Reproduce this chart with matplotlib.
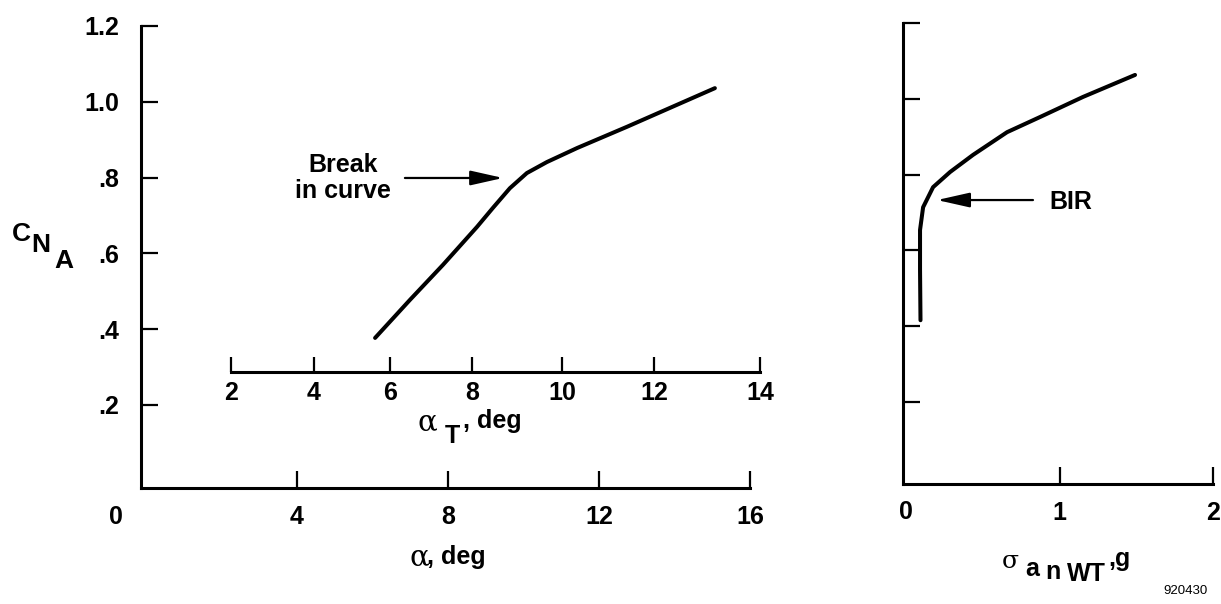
import matplotlib
matplotlib.use("Agg")
import matplotlib.pyplot as plt

plt.rcParams['font.family'] = ['Liberation Sans', 'DejaVu Sans']
plt.rcParams['font.weight'] = 'bold'

# left panel: C_NA vs alpha
alpha = [6.07, 6.99, 7.87, 8.77, 9.19, 9.64, 10.09, 10.62, 11.42, 12.74, 15.07]
cna_left = [0.377, 0.477, 0.570, 0.670, 0.720, 0.772, 0.812, 0.841, 0.878, 0.934, 1.036]

# inner alpha_T scale: tick values and where they sit on the alpha axis
alpha_t_vals = [2, 4, 6, 8, 10, 12, 14]
alpha_t_pos = [2.25, 4.45, 6.46, 8.64, 11.02, 13.46, 16.27]
alpha_t_level = 0.287

# right panel: C_NA vs sigma a_n
sigma_an = [0.094, 0.091, 0.091, 0.111, 0.176, 0.287, 0.436, 0.658, 0.873, 1.153, 1.492]
cna_right = [0.416, 0.55, 0.654, 0.714, 0.767, 0.807, 0.852, 0.912, 0.952, 1.005, 1.063]

y_ticks = [0.2, 0.4, 0.6, 0.8, 1.0, 1.2]
y_labels = ['.2', '.4', '.6', '.8', '1.0', '1.2']

W, H = 1221, 604
FS = 18
fig = plt.figure(figsize=(W / 100, H / 100), dpi=100)


def px(x, y):
    return x / W, 1 - y / H


def style(ax):
    for s in ['top', 'right']:
        ax.spines[s].set_visible(False)
    for s in ['left', 'bottom']:
        ax.spines[s].set_linewidth(2.2)
    ax.tick_params(direction='in', length=12, width=1.6, labelsize=FS)
    for lab in ax.get_xticklabels() + ax.get_yticklabels():
        lab.set_fontweight('bold')


arrow = dict(arrowstyle='-|>,head_length=2.0,head_width=0.45', color='black', lw=1.6,
             shrinkA=0, shrinkB=0)

ax1 = fig.add_axes([141 / W, (H - 488) / H, (750 - 141) / W, (488 - 26) / H])
ax1.plot(alpha, cna_left, color='black', lw=2.9, solid_capstyle='round', solid_joinstyle='round')
ax1.set_xlim(-0.13, 16.0)
ax1.set_ylim(-0.019, 1.2)
ax1.set_xticks([4, 8, 12, 16])
ax1.set_yticks(y_ticks)
ax1.set_yticklabels(y_labels)
style(ax1)
ax1.tick_params(axis='x', pad=12)
ax1.tick_params(axis='y', pad=16)

# alpha_T scale drawn inside the left panel
ax1.plot([alpha_t_pos[0], alpha_t_pos[-1]], [alpha_t_level, alpha_t_level],
         color='black', lw=2.2, clip_on=False)
ax1.vlines(alpha_t_pos, alpha_t_level, alpha_t_level + 0.04, color='black', lw=1.6, clip_on=False)
for v, p in zip(alpha_t_vals, alpha_t_pos):
    ax1.text(p, alpha_t_level - 0.055, str(v), ha='center', va='center', fontsize=FS,
             fontweight='bold', clip_on=False)

ax1.annotate('', xy=(9.46, 0.799), xytext=(6.86, 0.799), arrowprops=arrow)
ax1.text(5.22, 0.80, 'Break\nin curve', ha='center', va='center', fontsize=FS,
         fontweight='bold', linespacing=1.1)

ax2 = fig.add_axes([903 / W, (H - 484) / H, (1213 - 903) / W, (484 - 23) / H])
ax2.plot(sigma_an, cna_right, color='black', lw=2.9, solid_capstyle='round', solid_joinstyle='round')
ax2.set_xlim(-0.02, 2.0)
ax2.set_ylim(-0.016, 1.2)
ax2.set_xticks([1, 2])
ax2.set_yticks(y_ticks)
ax2.set_yticklabels([])
style(ax2)
ax2.tick_params(axis='x', pad=12)
ax2.annotate('', xy=(0.202, 0.733), xytext=(0.827, 0.733), arrowprops=arrow)
ax2.text(1.075, 0.727, 'BIR', ha='center', va='center', fontsize=FS, fontweight='bold')

# corner zeros
fig.text(*px(116, 517), '0', ha='center', va='center', fontsize=FS, fontweight='bold')
fig.text(*px(906, 512), '0', ha='center', va='center', fontsize=FS, fontweight='bold')

# y label C_NA
fig.text(*px(21, 234), 'C', ha='center', va='center', fontsize=19, fontweight='bold')
fig.text(*px(41, 245), 'N', ha='center', va='center', fontsize=19, fontweight='bold')
fig.text(*px(64, 261), 'A', ha='center', va='center', fontsize=19, fontweight='bold')

# x label alpha, deg
fig.text(*px(419, 557), 'α', ha='center', va='center', fontsize=21, fontweight='normal',
         family='DejaVu Serif')
fig.text(*px(427, 557), ', deg', ha='left', va='center', fontsize=FS, fontweight='bold')

# alpha_T, deg
fig.text(*px(427, 422), 'α', ha='center', va='center', fontsize=21, fontweight='normal',
         family='DejaVu Serif')
fig.text(*px(452, 436), 'T', ha='center', va='center', fontsize=FS, fontweight='bold')
fig.text(*px(463, 421), ', deg', ha='left', va='center', fontsize=FS, fontweight='bold')

# sigma a_n_WT, g
fig.text(*px(1010, 561), 'σ', ha='center', va='center', fontsize=18, fontweight='normal',
         family='DejaVu Serif')
fig.text(*px(1032, 569), 'a', ha='center', va='center', fontsize=FS, fontweight='bold')
fig.text(*px(1053, 572), 'n', ha='center', va='center', fontsize=FS, fontweight='bold')
fig.text(*px(1086, 574), 'WT', ha='center', va='center', fontsize=FS, fontweight='bold')
fig.text(*px(1108, 559), ',g', ha='left', va='center', fontsize=FS, fontweight='bold')

fig.text(*px(1186, 591), '920430', ha='center', va='center', fontsize=9.5, fontweight='normal')

fig.savefig('out.png', dpi=100)
